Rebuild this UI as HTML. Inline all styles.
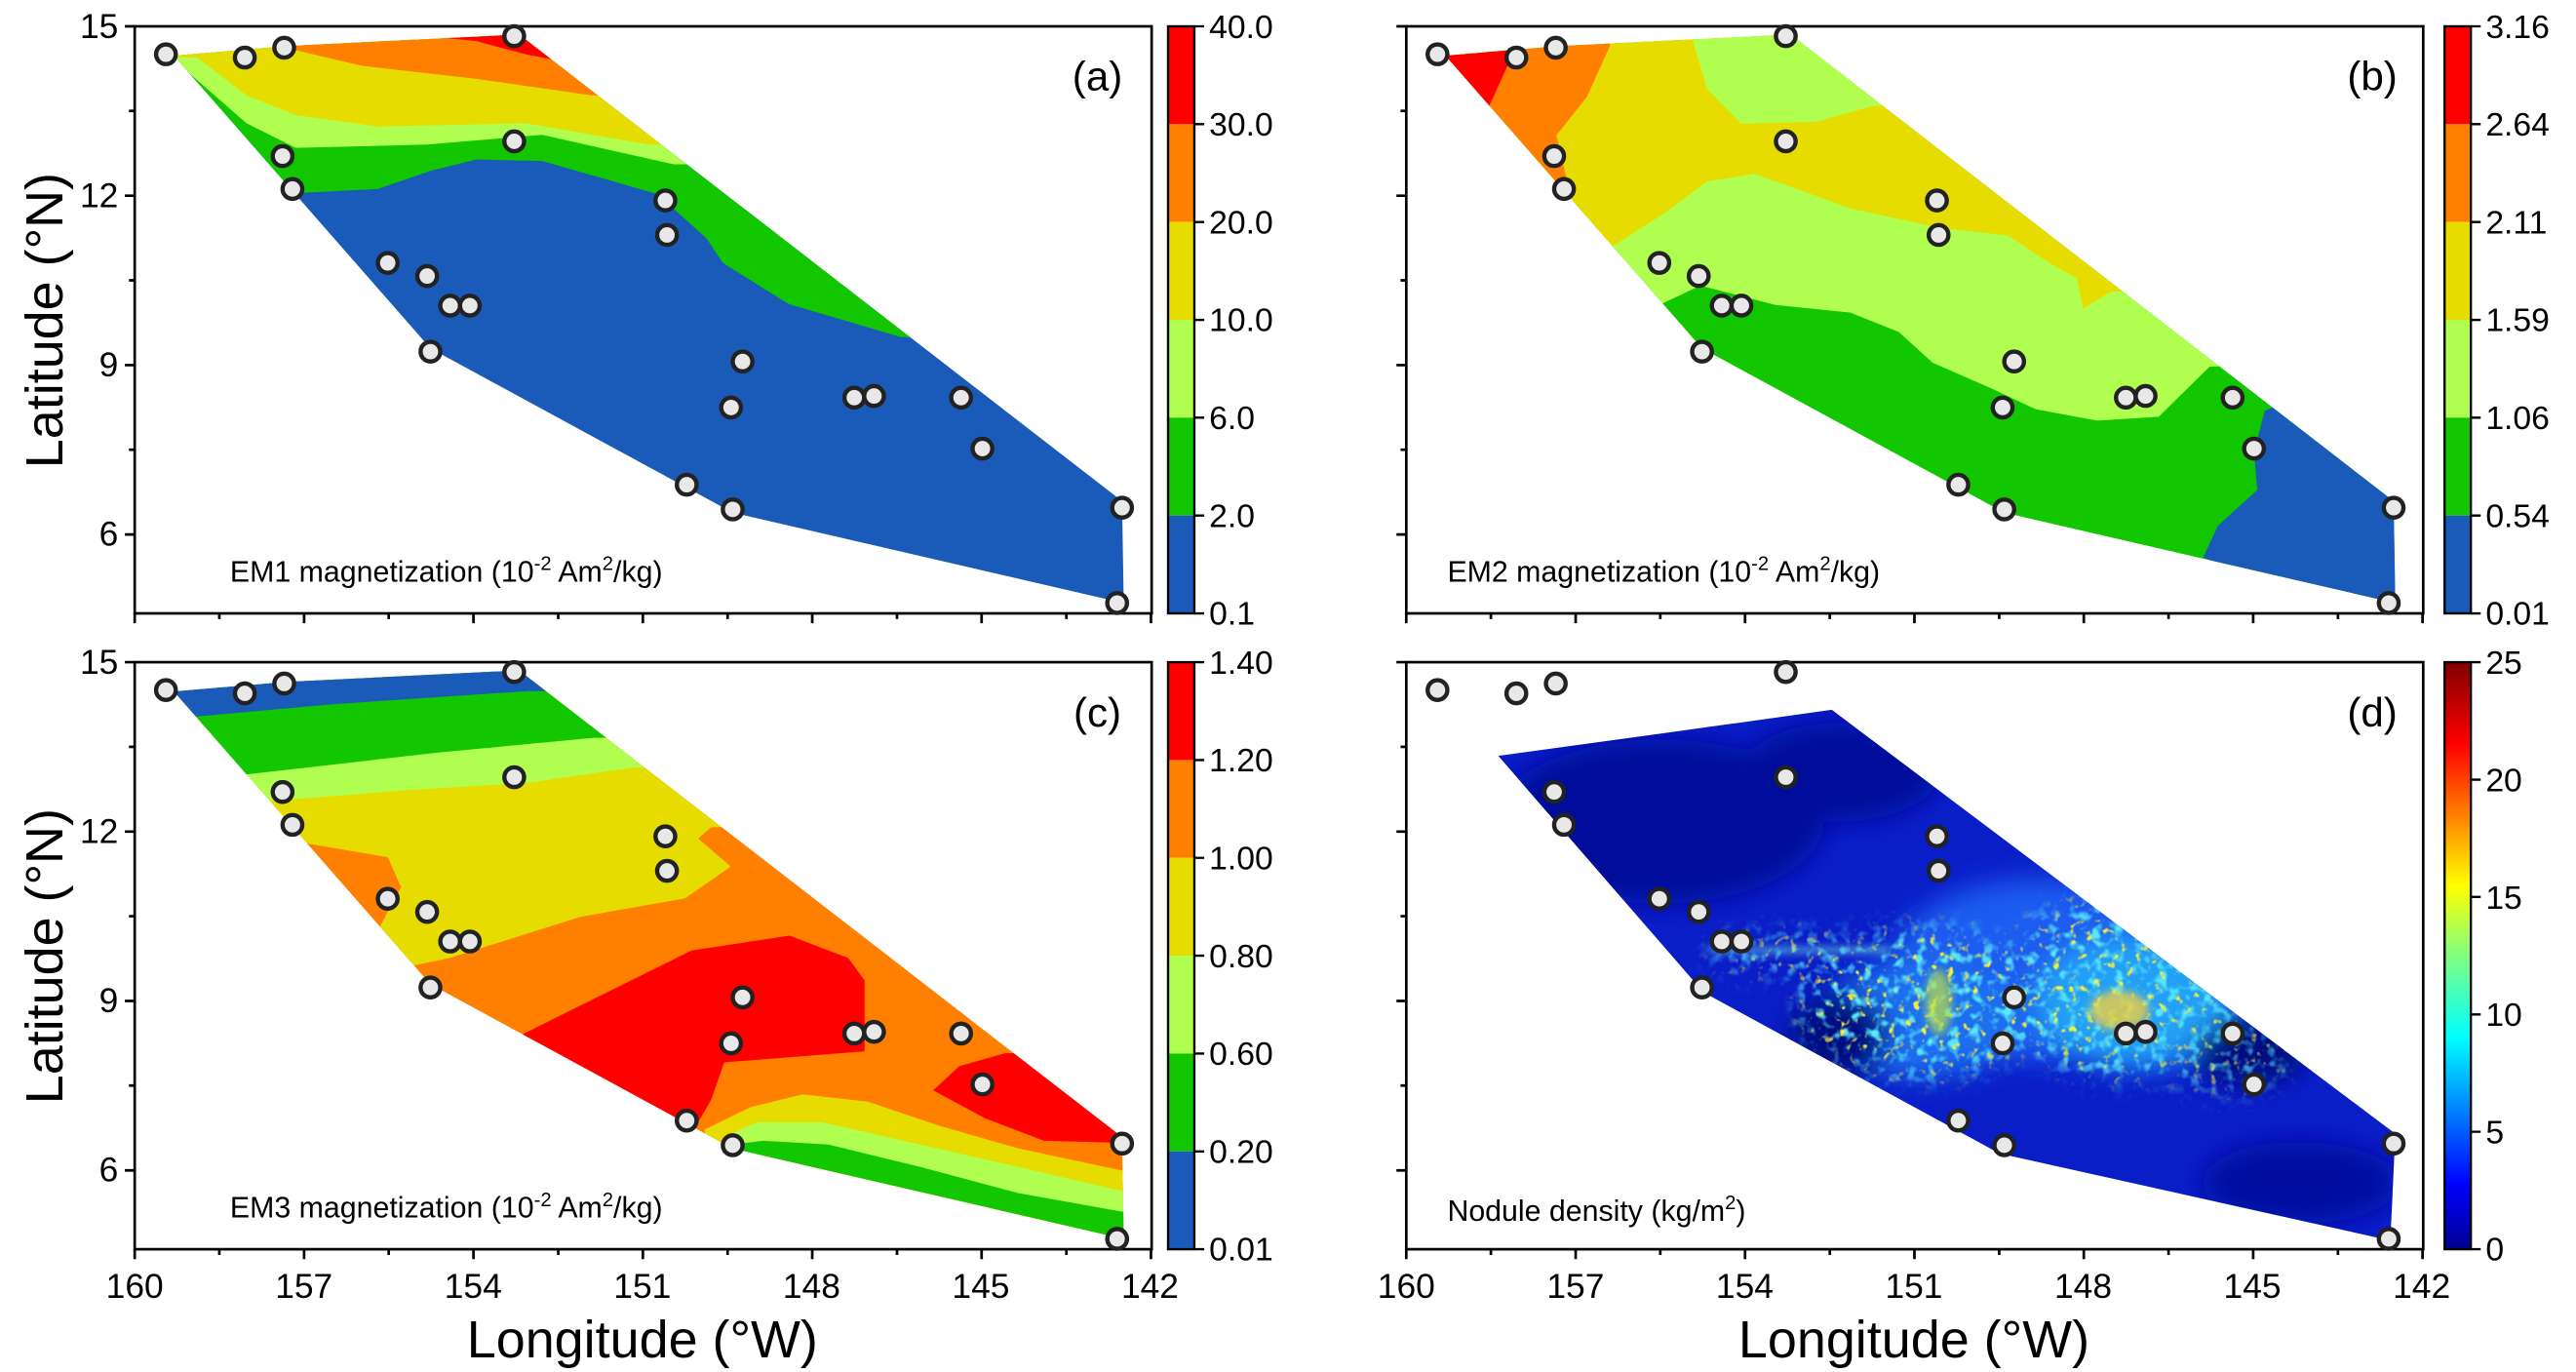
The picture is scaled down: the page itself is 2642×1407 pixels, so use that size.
<!DOCTYPE html>
<html><head><meta charset="utf-8"><style>
html,body{margin:0;padding:0;background:#fff;}
svg{display:block;}
text{font-family:"Liberation Sans",Arial,sans-serif;fill:#000;}
</style></head><body>
<svg width="2642" height="1407" viewBox="0 0 1568 835" xmlns="http://www.w3.org/2000/svg">
<defs>
<clipPath id="hA"><polygon points="104,34 175,28 316,21 683,305 684,367 446,312 262,212 106,34"/></clipPath>
<clipPath id="hB"><polygon transform="translate(774,0)" points="104,34 175,28 316,21 683,305 684,367 446,312 262,212 106,34"/></clipPath>
<clipPath id="hC"><polygon transform="translate(0,387)" points="104,34 175,28 316,21 683,305 684,367 446,312 262,212 106,34"/></clipPath>
<clipPath id="hD"><polygon points="912,460 1000,448 1115,432 1458,690 1455,755 1217,702 1037,604"/></clipPath>
<linearGradient id="jet" x1="0" y1="1" x2="0" y2="0">
<stop offset="0" stop-color="#00008f"/><stop offset="0.11" stop-color="#0000ff"/><stop offset="0.36" stop-color="#00ffff"/><stop offset="0.5" stop-color="#80ff80"/><stop offset="0.62" stop-color="#ffff00"/><stop offset="0.86" stop-color="#ff0000"/><stop offset="1" stop-color="#800000"/>
</linearGradient>
<filter id="bl" x="-50%" y="-50%" width="200%" height="200%"><feGaussianBlur stdDeviation="8"/></filter>
<filter id="bl2" x="-50%" y="-50%" width="200%" height="200%"><feGaussianBlur stdDeviation="2.5"/></filter>
<filter id="spk" x="0" y="0" width="100%" height="100%">
<feTurbulence type="fractalNoise" baseFrequency="0.15" numOctaves="2" seed="4"/>
<feColorMatrix type="matrix" values="0 0 0 0 0.1  0 0 0 0 0.8  0 0 0 0 0.95  4 0 0 0 -2.0"/>
</filter>
<filter id="spk2" x="0" y="0" width="100%" height="100%">
<feTurbulence type="fractalNoise" baseFrequency="0.2" numOctaves="2" seed="9"/>
<feColorMatrix type="matrix" values="0 0 0 0 0.95  0 0 0 0 0.85  0 0 0 0 0.05  6 0 0 0 -3.7"/>
</filter>
<mask id="mk"><g filter="url(#bl)">
<ellipse cx="1170" cy="610" rx="75" ry="45" fill="#fff"/>
<ellipse cx="1290" cy="600" rx="70" ry="55" fill="#fff"/>
<ellipse cx="1355" cy="640" rx="40" ry="25" fill="#aaa"/>
<ellipse cx="1090" cy="580" rx="50" ry="12" fill="#ccc"/>
</g></mask>
<g id="pts" fill="#e8e8e8" stroke="#222" stroke-width="2.6">
<circle cx="101" cy="33" r="6"/><circle cx="149" cy="35" r="6"/><circle cx="173" cy="29" r="6"/><circle cx="313" cy="22" r="6"/>
<circle cx="172" cy="95" r="6"/><circle cx="178" cy="115" r="6"/><circle cx="313" cy="86" r="6"/><circle cx="236" cy="160" r="6"/>
<circle cx="260" cy="168" r="6"/><circle cx="274" cy="186" r="6"/><circle cx="286" cy="186" r="6"/><circle cx="262" cy="214" r="6"/>
<circle cx="405" cy="122" r="6"/><circle cx="406" cy="143" r="6"/><circle cx="452" cy="220" r="6"/><circle cx="445" cy="248" r="6"/>
<circle cx="520" cy="242" r="6"/><circle cx="532" cy="241" r="6"/><circle cx="585" cy="242" r="6"/><circle cx="598" cy="273" r="6"/>
<circle cx="418" cy="295" r="6"/><circle cx="446" cy="310" r="6"/><circle cx="683" cy="309" r="6"/><circle cx="680" cy="367" r="6"/>
</g>
<g id="axes" fill="none" stroke="#000" stroke-width="1.6">
<rect x="82" y="16" width="619" height="357.3"/>
<path d="M82,16h-6M82,119.1h-6M82,222.2h-6M82,325.3h-6M82,67.5h-3.5M82,170.6h-3.5M82,273.7h-3.5"/>
<path d="M82,373.3v6M185.1,373.3v6M288.2,373.3v6M391.3,373.3v6M494.4,373.3v6M597.5,373.3v6M700.6,373.3v6M133.5,373.3v3.5M236.6,373.3v3.5M339.8,373.3v3.5M442.9,373.3v3.5M546,373.3v3.5M649.1,373.3v3.5"/>
</g>
<g id="ylab" font-size="21" text-anchor="end">
<text x="72" y="23">15</text><text x="72" y="126">12</text><text x="72" y="229">9</text><text x="72" y="332">6</text>
</g>
</defs>

<!-- Panel A -->
<g clip-path="url(#hA)">
<rect x="80" y="10" width="640" height="380" fill="#1a5ab8"/>
<polygon fill="#12c600" points="80,10 720,10 720,215 548,205 480,185 440,160 430,145 400,118 330,98 290,97 262,104 230,115 170,118 80,118"/>
<polygon fill="#b0ff50" points="80,10 720,10 720,100 410,100 330,82 260,88 180,90 150,75 110,40 80,40"/>
<polygon fill="#e6dc00" points="80,10 720,10 720,90 395,88 320,75 230,77 180,70 150,58 120,35 80,35"/>
<polygon fill="#ff7f00" points="150,10 720,10 720,60 360,58 290,48 220,40 165,27 150,10"/>
<polygon fill="#ff0000" points="250,10 720,10 720,30 345,38 320,33 290,25 260,22"/>
</g>
<use href="#axes"/><use href="#ylab"/>
<use href="#pts"/>
<text x="668" y="55" font-size="25" text-anchor="middle">(a)</text>
<text x="140" y="354" font-size="18">EM1 magnetization (10<tspan font-size="12" dy="-7">-2</tspan><tspan dy="7"> Am</tspan><tspan font-size="12" dy="-7">2</tspan><tspan dy="7">/kg)</tspan></text>
<g>
<rect x="711" y="16" width="16" height="59.55" fill="#ff0000"/><rect x="711" y="75.55" width="16" height="59.55" fill="#ff7f00"/><rect x="711" y="135.1" width="16" height="59.55" fill="#e6dc00"/><rect x="711" y="194.65" width="16" height="59.55" fill="#b0ff50"/><rect x="711" y="254.2" width="16" height="59.55" fill="#12c600"/><rect x="711" y="313.75" width="16" height="59.55" fill="#1a5ab8"/>
<rect x="711" y="16" width="16" height="357.3" fill="none" stroke="#000" stroke-width="1.4"/>
<path d="M727,16h6M727,75.55h6M727,135.1h6M727,194.65h6M727,254.2h6M727,313.75h6M727,373.3h6" stroke="#000" stroke-width="1.4"/>
<g font-size="20"><text x="736" y="23">40.0</text><text x="736" y="82.5">30.0</text><text x="736" y="142">20.0</text><text x="736" y="201.6">10.0</text><text x="736" y="261">6.0</text><text x="736" y="320.7">2.0</text><text x="736" y="380">0.1</text></g>
</g>

<!-- Panel B -->
<g clip-path="url(#hB)">
<rect x="850" y="10" width="640" height="380" fill="#12c600"/>
<polygon fill="#b0ff50" points="850,10 1490,10 1490,220 1345,223.1 1314,253.6 1276.5,256 1239,249 1214,237.2 1176.5,220.8 1155.7,202 1126.5,190.3 1080.7,185.6 1035,173.8 1010,185.6 850,185.6"/>
<polygon fill="#e6dc00" points="850,10 1490,10 1490,177 1285,177.4 1268,187.9 1264,169.1 1247,159.8 1222.3,143.3 1180.7,138.6 1126.5,126.9 1068,105.8 1039,110.5 1014,129.2 980.7,150.4 850,150.4"/>
<polygon fill="#b0ff50" points="1030.7,10 1030.7,26 1039,54 1060,75.3 1105.7,74.1 1139,64.7 1200,60 1200,10"/>
<polygon fill="#ff7f00" points="850,10 980,10 980,27.9 966,58.8 947.4,82.3 957.8,126.9 957.8,160 850,160"/>
<polygon fill="#ff0000" points="850,10 925,10 922.4,29.5 905.8,65.9 850,65.9"/>
<polygon fill="#1a5ab8" points="1490,230 1490,400 1341,339.3 1350,320 1374,298.2 1372,275 1378.5,250.1 1400,240"/>
</g>
<use href="#axes" x="774"/>
<use href="#pts" x="774"/>
<text x="1444" y="55" font-size="25" text-anchor="middle">(b)</text>
<text x="881" y="354" font-size="18">EM2 magnetization (10<tspan font-size="12" dy="-7">-2</tspan><tspan dy="7"> Am</tspan><tspan font-size="12" dy="-7">2</tspan><tspan dy="7">/kg)</tspan></text>
<g transform="translate(777,0)">
<rect x="711" y="16" width="16" height="59.55" fill="#ff0000"/><rect x="711" y="75.55" width="16" height="59.55" fill="#ff7f00"/><rect x="711" y="135.1" width="16" height="59.55" fill="#e6dc00"/><rect x="711" y="194.65" width="16" height="59.55" fill="#b0ff50"/><rect x="711" y="254.2" width="16" height="59.55" fill="#12c600"/><rect x="711" y="313.75" width="16" height="59.55" fill="#1a5ab8"/>
<rect x="711" y="16" width="16" height="357.3" fill="none" stroke="#000" stroke-width="1.4"/>
<path d="M727,16h6M727,75.55h6M727,135.1h6M727,194.65h6M727,254.2h6M727,313.75h6M727,373.3h6" stroke="#000" stroke-width="1.4"/>
<g font-size="20"><text x="736" y="23">3.16</text><text x="736" y="82.5">2.64</text><text x="736" y="142">2.11</text><text x="736" y="201.6">1.59</text><text x="736" y="261">1.06</text><text x="736" y="320.7">0.54</text><text x="736" y="380">0.01</text></g>
</g>

<!-- Panel C -->
<g clip-path="url(#hC)">
<rect x="80" y="400" width="640" height="380" fill="#ff7f00"/>
<polygon fill="#e6dc00" points="80,400 720,400 720,500 432.9,503.5 424.9,510.3 444.8,527.4 417,546.7 353.3,558 273.9,583 240,590 230.2,566 244.1,539.9 236.1,521.7 182.5,512.6 80,512.6"/>
<polygon fill="#b0ff50" points="80,400 720,400 720,467 385.2,467.2 321.6,476.3 250,480.8 162.6,487.6 80,487.6"/>
<polygon fill="#12c600" points="80,400 720,400 720,449 361.3,449 265.9,458.1 146.7,471.7 80,471.7"/>
<polygon fill="#1a5ab8" points="80,400 720,400 720,420.6 321.6,420.6 202.3,428.6 114.9,436.5 80,436.5"/>
<polygon fill="#ff0000" points="300,640 315.6,630.7 361.3,608 421,578.5 480.6,569.4 516.3,583 526.3,596.7 526.3,639.8 440.8,646.6 432.9,669.3 424.9,683 300,700"/>
<polygon fill="#ff0000" points="611.7,641 583.9,648.9 568,663.6 599.8,680.7 635.5,694.3 679.3,695.4 700,700 700,640"/>
<polygon fill="#e6dc00" points="428.9,687.5 456.7,673.9 488.5,666 528.2,670.5 571.9,685.2 619.7,698.9 683.3,712.5 700,712.5 700,780 428.9,780"/>
<polygon fill="#b0ff50" points="440.8,692 460.7,683 500.4,683 560,696.6 619.7,710.2 683.3,725 700,725 700,780 440.8,780"/>
<polygon fill="#12c600" points="444.8,696.6 464.6,694.3 504.4,696.6 560,710.2 619.7,726.1 683.3,737.5 700,737.5 700,780 444.8,780"/>
</g>
<use href="#axes" y="387"/><use href="#ylab" y="387"/>
<use href="#pts" y="387"/>
<text x="668" y="442" font-size="25" text-anchor="middle">(c)</text>
<text x="140" y="741" font-size="18">EM3 magnetization (10<tspan font-size="12" dy="-7">-2</tspan><tspan dy="7"> Am</tspan><tspan font-size="12" dy="-7">2</tspan><tspan dy="7">/kg)</tspan></text>
<g transform="translate(0,387)">
<rect x="711" y="16" width="16" height="59.55" fill="#ff0000"/><rect x="711" y="75.55" width="16" height="59.55" fill="#ff7f00"/><rect x="711" y="135.1" width="16" height="59.55" fill="#e6dc00"/><rect x="711" y="194.65" width="16" height="59.55" fill="#b0ff50"/><rect x="711" y="254.2" width="16" height="59.55" fill="#12c600"/><rect x="711" y="313.75" width="16" height="59.55" fill="#1a5ab8"/>
<rect x="711" y="16" width="16" height="357.3" fill="none" stroke="#000" stroke-width="1.4"/>
<path d="M727,16h6M727,75.55h6M727,135.1h6M727,194.65h6M727,254.2h6M727,313.75h6M727,373.3h6" stroke="#000" stroke-width="1.4"/>
<g font-size="20"><text x="736" y="23">1.40</text><text x="736" y="82.5">1.20</text><text x="736" y="142">1.00</text><text x="736" y="201.6">0.80</text><text x="736" y="261">0.60</text><text x="736" y="320.7">0.20</text><text x="736" y="380">0.01</text></g>
</g>

<!-- Panel D -->
<g clip-path="url(#hD)">
<rect x="900" y="420" width="570" height="350" fill="#0a1ec8"/>
<g filter="url(#bl)">
<ellipse cx="1010" cy="500" rx="100" ry="50" fill="#020a9a"/>
<ellipse cx="1120" cy="470" rx="60" ry="30" fill="#020a9a"/>
<ellipse cx="1240" cy="590" rx="90" ry="55" fill="#1a5cf0"/>
<ellipse cx="1300" cy="610" rx="60" ry="40" fill="#24a0f8"/>
<ellipse cx="1170" cy="620" rx="60" ry="35" fill="#1a70f0"/>
<ellipse cx="1120" cy="630" rx="30" ry="25" fill="#040a80"/>
<ellipse cx="1370" cy="640" rx="35" ry="20" fill="#040a80"/>
<ellipse cx="1400" cy="720" rx="60" ry="25" fill="#040aa0"/>
</g>
<rect x="1000" y="520" width="450" height="200" filter="url(#spk)" mask="url(#mk)"/>
<rect x="1000" y="520" width="450" height="200" filter="url(#spk2)" mask="url(#mk)"/>
<g filter="url(#bl2)">
<ellipse cx="1290" cy="615" rx="18" ry="12" fill="#f0d040" opacity="0.8"/>
<ellipse cx="1180" cy="610" rx="8" ry="20" fill="#c0e040" opacity="0.7"/>
<rect x="1040" y="577" width="110" height="2.5" fill="#70e0e0"/>
</g>
</g>
<use href="#axes" x="774" y="387"/>
<use href="#pts" x="774" y="387"/>
<text x="1444" y="442" font-size="25" text-anchor="middle">(d)</text>
<text x="881" y="743" font-size="18">Nodule density (kg/m<tspan font-size="12" dy="-7">2</tspan><tspan dy="7">)</tspan></text>
<g transform="translate(777,387)">
<rect x="711" y="16" width="16" height="357.3" fill="url(#jet)" stroke="#000" stroke-width="1.4"/>
<path d="M727,16h6M727,87.5h6M727,158.9h6M727,230.4h6M727,301.8h6M727,373.3h6" stroke="#000" stroke-width="1.4"/>
<g font-size="20"><text x="736" y="23">25</text><text x="736" y="94.5">20</text><text x="736" y="166">15</text><text x="736" y="237.4">10</text><text x="736" y="309">5</text><text x="736" y="380">0</text></g>
</g>

<!-- X tick labels -->
<g font-size="21" text-anchor="middle">
<text x="82" y="790">160</text><text x="185" y="790">157</text><text x="288" y="790">154</text><text x="391" y="790">151</text><text x="494" y="790">148</text><text x="597" y="790">145</text><text x="700" y="790">142</text>
<text x="856" y="790">160</text><text x="959" y="790">157</text><text x="1062" y="790">154</text><text x="1165" y="790">151</text><text x="1268" y="790">148</text><text x="1371" y="790">145</text><text x="1474" y="790">142</text>
</g>
<text x="391" y="826" font-size="32" text-anchor="middle">Longitude (°W)</text>
<text x="1165" y="826" font-size="32" text-anchor="middle">Longitude (°W)</text>
<text transform="translate(38,195) rotate(-90)" font-size="32" text-anchor="middle">Latitude (°N)</text>
<text transform="translate(38,582) rotate(-90)" font-size="32" text-anchor="middle">Latitude (°N)</text>
</svg>
</body></html>
